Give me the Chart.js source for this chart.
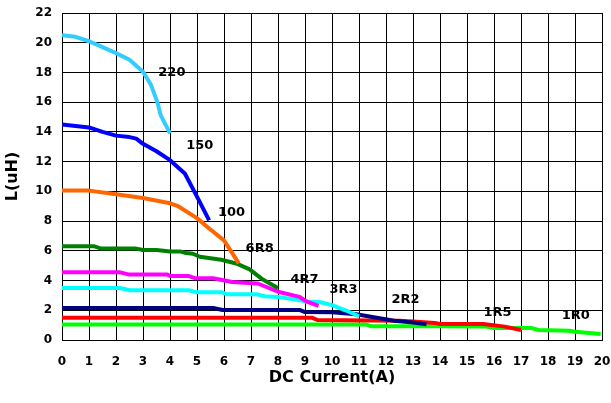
<!DOCTYPE html>
<html>
<head>
<meta charset="utf-8">
<script src="https://cdn.jsdelivr.net/npm/chart.js@4"></script>
<style>
    html, body { margin: 0; padding: 0; background: #ffffff; }
    #chartBox { width: 611px; height: 403px; }
</style>
</head>
<body>
<div id="chartBox"><canvas id="dcChart" width="611" height="403"></canvas></div>
<script>
// part numbers, drawn top to bottom in this order
const seriesNames = ['220', '150', '100', '6R8', '4R7', '3R3', '2R2', '1R5', '1R0'];

// DC current (A) and inductance (uH)
const current220 = [0, 0.5, 1, 1.5, 2, 2.5, 3, 3.3, 3.55, 3.65, 4];
const induct220 = [20.5, 20.4, 20.1, 19.7, 19.3, 18.85, 18.05, 17.15, 15.9, 15.15, 13.9];

const current150 = [0, 1, 1.5, 2, 2.5, 2.75, 3, 3.5, 4, 4.55, 5, 5.45];
const induct150 = [14.5, 14.3, 14.0, 13.75, 13.65, 13.55, 13.2, 12.7, 12.1, 11.2, 9.65, 8.05];

const current100 = [0, 1, 2, 3, 4, 4.3, 5, 5.45, 6, 6.55];
const induct100 = [10.05, 10.05, 9.8, 9.55, 9.2, 9.0, 8.2, 7.5, 6.7, 5.15];

const current6R8 = [0, 1.2, 1.45, 2.75, 3, 3.5, 4, 4.4, 4.6, 4.85, 5.1, 5.9, 6.45, 6.95, 7.45, 8];
const induct6R8 = [6.3, 6.3, 6.15, 6.15, 6.05, 6.05, 5.95, 5.95, 5.85, 5.8, 5.6, 5.4, 5.15, 4.75, 4.05, 3.5];

const current4R7 = [0, 2.15, 2.5, 3.9, 4.0, 4.7, 4.95, 5.6, 6.3, 7.25, 8.0, 8.8, 9.05, 9.5];
const induct4R7 = [4.55, 4.55, 4.4, 4.4, 4.3, 4.3, 4.15, 4.15, 3.9, 3.8, 3.25, 2.9, 2.6, 2.3];

const current3R3 = [0, 2.15, 2.5, 4.7, 4.95, 5.9, 6.1, 7.2, 7.5, 8.0, 8.8, 9.05, 9.5, 10.0, 10.5, 11.0];
const induct3R3 = [3.5, 3.5, 3.35, 3.35, 3.22, 3.22, 3.08, 3.08, 2.95, 2.9, 2.68, 2.57, 2.57, 2.35, 2.0, 1.6];

const current2R2 = [0, 5.6, 5.95, 8.8, 9.0, 10.0, 10.9, 12.3, 13.0, 13.5];
const induct2R2 = [2.15, 2.15, 2.02, 2.02, 1.88, 1.86, 1.73, 1.3, 1.18, 1.05];

const current1R5 = [0, 9.25, 9.45, 12.5, 13.0, 13.8, 14.0, 15.6, 16.4, 17.0];
const induct1R5 = [1.5, 1.5, 1.35, 1.3, 1.25, 1.15, 1.08, 1.08, 0.9, 0.67];

const current1R0 = [0, 11.25, 11.45, 13.0, 14.0, 15.7, 16.0, 17.0, 17.4, 17.65, 18.8, 19.0, 19.95];
const induct1R0 = [1.05, 1.05, 0.92, 0.93, 0.92, 0.9, 0.8, 0.8, 0.8, 0.67, 0.62, 0.56, 0.4];

// where each part number is written, in data units
const labelCurrent = [4.07, 5.1, 6.28, 7.32, 8.98, 10.43, 12.72, 16.13, 19.03];
const labelInduct = [17.97, 13.05, 8.55, 6.12, 4.04, 3.36, 2.69, 1.85, 1.63];

const currentTicks = [0, 1, 2, 3, 4, 5, 6, 7, 8, 9, 10, 11, 12, 13, 14, 15, 16, 17, 18, 19, 20];
const inductTicks = [0, 2, 4, 6, 8, 10, 12, 14, 16, 18, 20, 22];

const seriesColors = ['#33ccff', '#0000ff', '#ff6600', '#008000', '#ff00ff', '#00ffff', '#000080', '#ff0000', '#00ff00'];

const FONT = '"DejaVu Sans", "Liberation Sans", Arial, sans-serif';

document.addEventListener('DOMContentLoaded', () => {
    renderChart();
});

function renderChart() {
    const currents = [current220, current150, current100, current6R8, current4R7, current3R3, current2R2, current1R5, current1R0];
    const inducts = [induct220, induct150, induct100, induct6R8, induct4R7, induct3R3, induct2R2, induct1R5, induct1R0];

    const datasets = seriesNames.map((name, i) => ({
        label: name,
        data: currents[i].map((x, j) => ({ x: x, y: inducts[i][j] })),
        borderColor: seriesColors[i],
        backgroundColor: seriesColors[i],
        borderWidth: 4,
        pointRadius: 0,
        tension: 0,
        borderJoinStyle: 'round',
        fill: false
    }));

    const partLabels = {
        id: 'partLabels',
        afterDatasetsDraw(chart) {
            const ctx = chart.ctx;
            const xs = chart.scales.x;
            const ys = chart.scales.y;
            ctx.save();
            ctx.font = 'bold 13px ' + FONT;
            ctx.fillStyle = '#000000';
            ctx.textAlign = 'center';
            ctx.textBaseline = 'middle';
            seriesNames.forEach((name, i) => {
                ctx.fillText(name, xs.getPixelForValue(labelCurrent[i]), ys.getPixelForValue(labelInduct[i]));
            });
            ctx.restore();
        }
    };

    new Chart(document.getElementById('dcChart'), {
        type: 'line',
        data: { datasets: datasets },
        options: {
            responsive: false,
            animation: false,
            devicePixelRatio: 1,
            layout: {
                padding: { left: 0, right: 9, top: 13, bottom: 0 }
            },
            plugins: {
                legend: { display: false },
                tooltip: { enabled: false }
            },
            scales: {
                x: {
                    type: 'linear',
                    min: 0,
                    max: 20,
                    afterBuildTicks: (scale) => {
                        scale.ticks = currentTicks.map((v) => ({ value: v }));
                    },
                    afterFit: (scale) => {
                        scale.height = 63;
                        scale.paddingLeft = 0;
                        scale.paddingRight = 0;
                    },
                    grid: { color: '#000000', lineWidth: 1, drawTicks: false },
                    border: { color: '#000000', width: 1 },
                    ticks: {
                        color: '#000000',
                        padding: 15,
                        maxRotation: 0,
                        autoSkip: false,
                        font: { family: FONT, size: 12, weight: 'bold' }
                    },
                    title: {
                        display: true,
                        text: 'DC Current(A)',
                        color: '#000000',
                        padding: { top: 0, bottom: 16 },
                        font: { family: FONT, size: 16, weight: 'bold' }
                    }
                },
                y: {
                    min: 0,
                    max: 22,
                    afterBuildTicks: (scale) => {
                        scale.ticks = inductTicks.map((v) => ({ value: v }));
                    },
                    afterFit: (scale) => {
                        scale.width = 62;
                        scale.paddingTop = 0;
                        scale.paddingBottom = 0;
                    },
                    grid: { color: '#000000', lineWidth: 1, drawTicks: false },
                    border: { color: '#000000', width: 1 },
                    ticks: {
                        color: '#000000',
                        padding: 10,
                        autoSkip: false,
                        font: { family: FONT, size: 12, weight: 'bold' }
                    },
                    title: {
                        display: true,
                        text: 'L(uH)',
                        color: '#000000',
                        padding: { top: 3, bottom: 0 },
                        font: { family: FONT, size: 16, weight: 'bold' }
                    }
                }
            }
        },
        plugins: [partLabels]
    });
}
</script>
</body>
</html>
